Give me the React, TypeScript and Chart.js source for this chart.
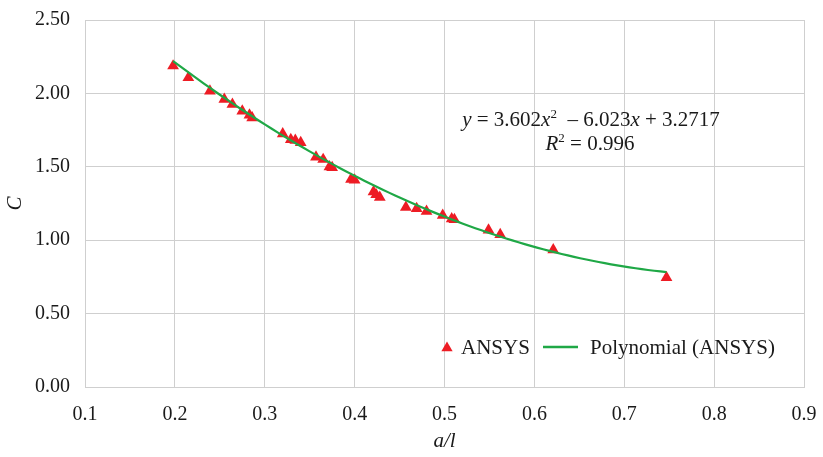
import React, { useEffect, useRef } from 'react';
import { Chart, registerables } from 'chart.js';

Chart.register(...registerables);

// a/l values (x) and C values (y)
const aOverL = [
  0.198, 0.215, 0.239, 0.255, 0.264, 0.275, 0.283, 0.286, 0.320, 0.329,
  0.334, 0.340, 0.357, 0.365, 0.372, 0.375, 0.396, 0.400, 0.421, 0.424,
  0.428, 0.457, 0.469, 0.480, 0.498, 0.508, 0.511, 0.549, 0.562, 0.621,
  0.747,
];
const cValues = [
  2.187, 2.107, 2.016, 1.960, 1.926, 1.880, 1.852, 1.834, 1.725, 1.686,
  1.680, 1.665, 1.566, 1.550, 1.500, 1.495, 1.415, 1.410, 1.330, 1.310,
  1.292, 1.224, 1.215, 1.197, 1.169, 1.145, 1.140, 1.069, 1.038, 0.935,
  0.746,
];

// Polynomial trendline y = a x^2 + b x + c (as printed on the chart)
const trendCoeffs = [3.602, -6.023, 3.2717];
const rSquared = '0.996';

const xTickMin = 0.1;
const xTickMax = 0.9;
const xTickStep = 0.1;
const yTickMin = 0;
const yTickMax = 2.5;
const yTickStep = 0.5;

const seriesLabel = 'ANSYS';
const trendLabel = 'Polynomial (ANSYS)';
const xTitle = 'a/l';
const yTitle = 'C';

const RED = '#ed1c24';
const GREEN = '#1fa846';
const GRID = '#cfcfcf';
const TEXT = '#1a1a1a';
const FONT = "'Liberation Serif', 'Times New Roman', serif";

function trendPoints() {
  const xMin = Math.min(...aOverL);
  const xMax = Math.max(...aOverL);
  const n = 80;
  const pts: { x: number; y: number }[] = [];
  for (let i = 0; i <= n; i++) {
    const x = xMin + ((xMax - xMin) * i) / n;
    const y = trendCoeffs[0] * x * x + trendCoeffs[1] * x + trendCoeffs[2];
    pts.push({ x, y });
  }
  return pts;
}

type Seg = { t: string; italic?: boolean; sup?: boolean };

function drawRich(ctx: CanvasRenderingContext2D, segs: Seg[], cx: number, baseline: number, size: number) {
  const fontFor = (s: Seg) => `${s.italic ? 'italic ' : ''}${s.sup ? Math.round(size * 0.6) : size}px ${FONT}`;
  let total = 0;
  for (const s of segs) {
    ctx.font = fontFor(s);
    total += ctx.measureText(s.t).width;
  }
  let x = cx - total / 2;
  ctx.textBaseline = 'alphabetic';
  ctx.textAlign = 'left';
  for (const s of segs) {
    ctx.font = fontFor(s);
    ctx.fillText(s.t, x, s.sup ? baseline - size * 0.38 : baseline);
    x += ctx.measureText(s.t).width;
  }
}

const annotationPlugin = {
  id: 'annotationsAndLegend',
  afterDraw(chart: any) {
    const ctx: CanvasRenderingContext2D = chart.ctx;
    ctx.save();
    ctx.fillStyle = TEXT;
    const size = 21;
    const a = trendCoeffs[0].toFixed(3);
    const b = Math.abs(trendCoeffs[1]).toFixed(3);
    const c = trendCoeffs[2].toFixed(4);
    drawRich(
      ctx,
      [
        { t: 'y', italic: true },
        { t: ' = ' + a },
        { t: 'x', italic: true },
        { t: '2', sup: true },
        { t: '  \u2013 ' + b },
        { t: 'x', italic: true },
        { t: ' + ' + c },
      ],
      591,
      126,
      size
    );
    drawRich(
      ctx,
      [
        { t: 'R', italic: true },
        { t: '2', sup: true },
        { t: ' = ' + rSquared },
      ],
      590,
      150,
      size
    );

    // legend
    const ly = 347;
    const ds0 = chart.data.datasets[0];
    const ds1 = chart.data.datasets[1];
    ctx.fillStyle = ds0.backgroundColor;
    const r = 6.5;
    const tx = 447;
    const ty = ly + 1;
    ctx.beginPath();
    ctx.moveTo(tx, ty - r);
    ctx.lineTo(tx + r * 0.866, ty + r / 2);
    ctx.lineTo(tx - r * 0.866, ty + r / 2);
    ctx.closePath();
    ctx.fill();
    ctx.font = `${size}px ${FONT}`;
    ctx.fillStyle = TEXT;
    ctx.textBaseline = 'middle';
    ctx.textAlign = 'left';
    ctx.fillText(ds0.label, 461, ly + 1);
    ctx.strokeStyle = ds1.borderColor;
    ctx.lineWidth = 2.5;
    ctx.beginPath();
    ctx.moveTo(543, ly);
    ctx.lineTo(578, ly);
    ctx.stroke();
    ctx.fillText(ds1.label, 590, ly + 1);
    ctx.restore();
  },
};

export default function App() {
  const canvasRef = useRef<HTMLCanvasElement | null>(null);

  useEffect(() => {
    if (!canvasRef.current) return;
    const chart = new Chart(canvasRef.current, {
      type: 'scatter',
      data: {
        datasets: [
          {
            label: seriesLabel,
            data: aOverL.map((x, i) => ({ x, y: cValues[i] })),
            pointStyle: 'triangle',
            pointRadius: 6.8,
            pointBorderWidth: 0,
            backgroundColor: RED,
            borderColor: RED,
            order: 2,
          },
          {
            label: trendLabel,
            type: 'line',
            data: trendPoints(),
            borderColor: GREEN,
            backgroundColor: GREEN,
            borderWidth: 2.2,
            pointRadius: 0,
            fill: false,
            tension: 0,
            order: 1,
          },
        ],
      },
      options: {
        animation: false,
        responsive: false,
        maintainAspectRatio: false,
        layout: { padding: { top: 20, right: 19, left: 0, bottom: 0 } },
        plugins: {
          legend: { display: false },
          tooltip: { enabled: false },
        },
        scales: {
          x: {
            type: 'linear',
            min: xTickMin,
            max: xTickMax,
            ticks: {
              stepSize: xTickStep,
              color: TEXT,
              font: { family: FONT, size: 20 },
              padding: 16,
              callback: (v: any) => Number(v).toFixed(1),
            },
            grid: { color: GRID, drawTicks: false },
            border: { color: GRID },
            title: {
              display: true,
              text: xTitle,
              color: TEXT,
              font: { family: FONT, size: 21, style: 'italic' },
              padding: { top: 0, bottom: 3 },
            },
            afterFit: (scale: any) => {
              scale.height = 70;
              scale.paddingLeft = 0;
              scale.paddingRight = 0;
            },
          },
          y: {
            type: 'linear',
            min: yTickMin,
            max: yTickMax,
            ticks: {
              stepSize: yTickStep,
              color: TEXT,
              font: { family: FONT, size: 20 },
              padding: 15,
              callback: (v: any) => Number(v).toFixed(2),
            },
            grid: { color: GRID, drawTicks: false },
            border: { color: GRID },
            title: {
              display: true,
              text: yTitle,
              color: TEXT,
              font: { family: FONT, size: 21, style: 'italic' },
              padding: { top: 3, bottom: 0 },
            },
            afterFit: (scale: any) => {
              scale.width = 85;
              scale.paddingTop = 0;
              scale.paddingBottom = 0;
            },
          },
        },
      },
      plugins: [annotationPlugin],
    } as any);
    return () => chart.destroy();
  }, []);

  return (
    <div style={{ position: 'absolute', left: 0, top: 0, width: 823, height: 457, background: '#fff' }}>
      <canvas ref={canvasRef} width={823} height={457} style={{ width: 823, height: 457 }} />
    </div>
  );
}
